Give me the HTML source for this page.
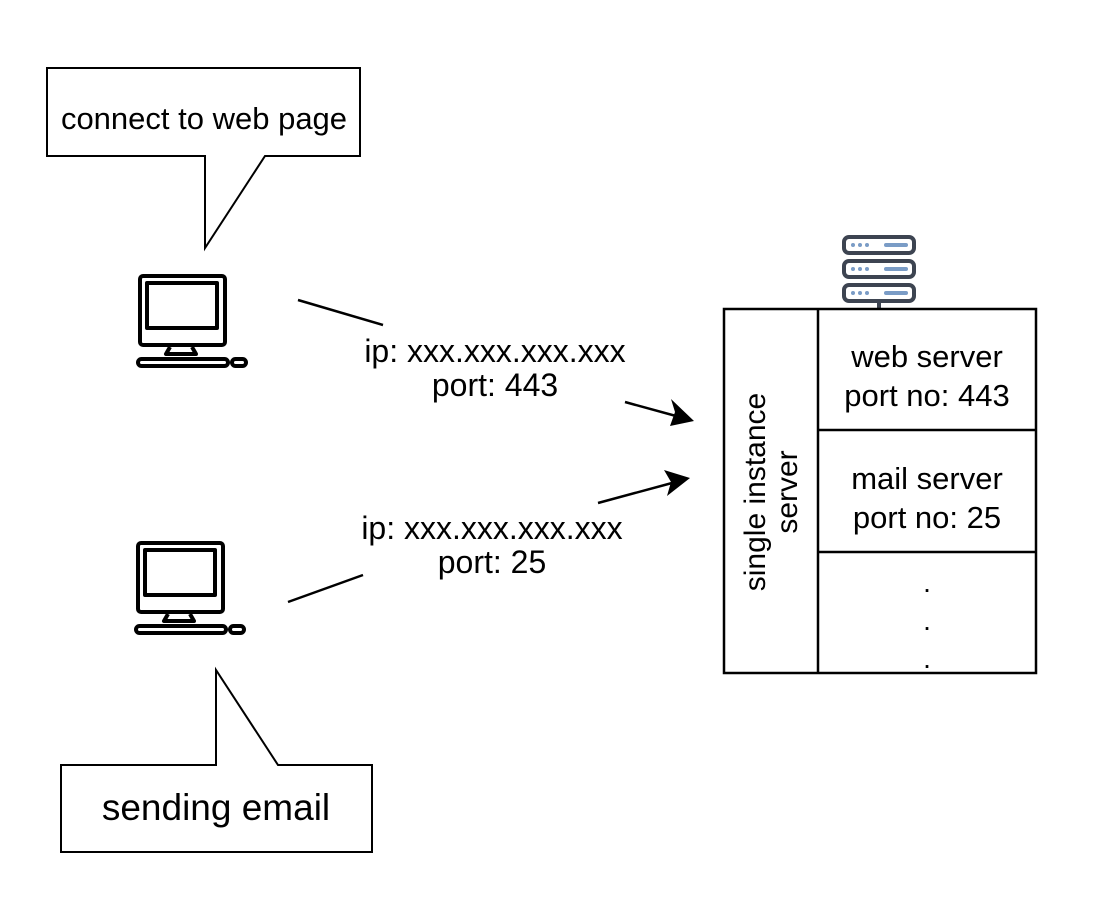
<!DOCTYPE html>
<html><head><meta charset="utf-8"><style>html,body{margin:0;padding:0;background:#fff}</style></head><body>
<svg width="1100" height="904" viewBox="0 0 1100 904" xmlns="http://www.w3.org/2000/svg" font-family="Liberation Sans, Arial, sans-serif">
<rect width="1100" height="904" fill="#fff"/>
<path d="M47,68 H360 V156 H265 L205,248 V156 H47 Z" fill="#fff" stroke="#000" stroke-width="2"/>
<text x="204" y="129" font-size="31" text-anchor="middle">connect to web page</text>
<path d="M61,765 H216 V670 L278,765 H372 V852 H61 Z" fill="#fff" stroke="#000" stroke-width="2"/>
<text x="216" y="820" font-size="37" text-anchor="middle">sending email</text>
<g fill="none" stroke="#000" stroke-width="4" stroke-linejoin="round">
<rect x="140" y="276" width="85" height="69" rx="3"/>
<rect x="147" y="283" width="70" height="45"/>
<path d="M170,347 L166,354 H196 L192,347" />
<rect x="138" y="359" width="90" height="7" rx="3.5"/>
<rect x="232" y="359" width="14" height="7" rx="3.5"/>
</g>
<g fill="none" stroke="#000" stroke-width="4" stroke-linejoin="round">
<rect x="138" y="543" width="85" height="69" rx="3"/>
<rect x="145" y="550" width="70" height="45"/>
<path d="M168,614 L164,621 H194 L190,614" />
<rect x="136" y="626" width="90" height="7" rx="3.5"/>
<rect x="230" y="626" width="14" height="7" rx="3.5"/>
</g>
<g stroke="#000" stroke-width="2.5">
<line x1="298" y1="300" x2="383" y2="325"/>
<line x1="625" y1="402" x2="676" y2="416"/>
<line x1="288" y1="602" x2="363" y2="575"/>
<line x1="598" y1="503" x2="672" y2="483"/>
</g>
<polygon points="694,421 670,426 675,412 671,399" fill="#000"/>
<polygon points="690,478 667,496 671,482 664,470" fill="#000"/>
<text font-size="32" text-anchor="middle"><tspan x="495" y="362">ip: xxx.xxx.xxx.xxx</tspan><tspan x="495" y="396">port: 443</tspan></text>
<text font-size="32" text-anchor="middle"><tspan x="492" y="539">ip: xxx.xxx.xxx.xxx</tspan><tspan x="492" y="573">port: 25</tspan></text>
<g stroke="#3d4451" stroke-width="4" fill="#fff">
<rect x="844" y="237" width="70" height="16" rx="5"/>
<rect x="844" y="261" width="70" height="16" rx="5"/>
<rect x="844" y="285" width="70" height="16" rx="5"/>
<line x1="879" y1="301" x2="879" y2="309"/>
</g>
<g fill="#7a9cc6">
<circle cx="853" cy="245" r="2"/><circle cx="860" cy="245" r="2"/><circle cx="867" cy="245" r="2"/>
<circle cx="853" cy="269" r="2"/><circle cx="860" cy="269" r="2"/><circle cx="867" cy="269" r="2"/>
<circle cx="853" cy="293" r="2"/><circle cx="860" cy="293" r="2"/><circle cx="867" cy="293" r="2"/>
<rect x="884" y="243" width="24" height="4" rx="2"/>
<rect x="884" y="267" width="24" height="4" rx="2"/>
<rect x="884" y="291" width="24" height="4" rx="2"/>
</g>
<g fill="none" stroke="#000" stroke-width="2.5">
<rect x="724" y="309" width="312" height="364"/>
<line x1="818" y1="309" x2="818" y2="673"/>
<line x1="818" y1="430" x2="1036" y2="430"/>
<line x1="818" y1="552" x2="1036" y2="552"/>
</g>
<text font-size="30" text-anchor="middle" transform="translate(771,492) rotate(-90)"><tspan x="0" y="-6">single instance</tspan><tspan x="0" y="26">server</tspan></text>
<text font-size="31" text-anchor="middle"><tspan x="927" y="367">web server</tspan><tspan x="927" y="406">port no: 443</tspan></text>
<text font-size="31" text-anchor="middle"><tspan x="927" y="489">mail server</tspan><tspan x="927" y="528">port no: 25</tspan></text>
<text font-size="28" text-anchor="middle"><tspan x="927" y="592">.</tspan><tspan x="927" y="630">.</tspan><tspan x="927" y="668">.</tspan></text>
</svg>
</body></html>
